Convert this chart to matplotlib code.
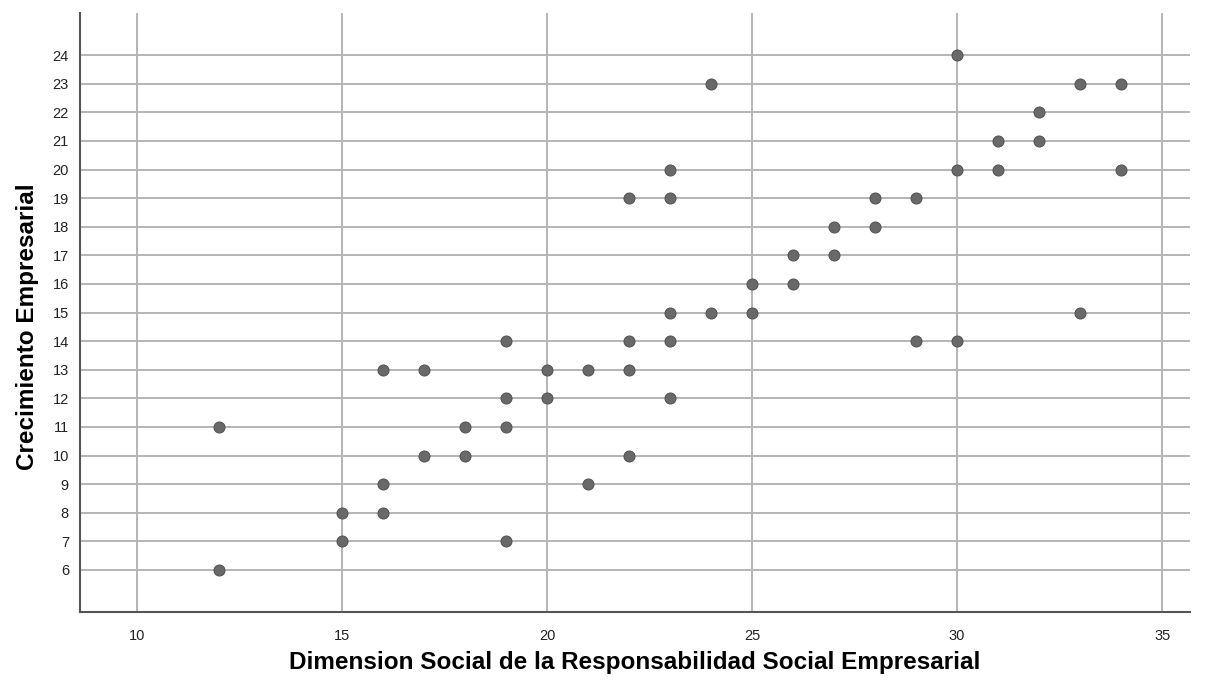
import matplotlib.pyplot as plt

# Dimension Social de la RSE (x) vs Crecimiento Empresarial (y)
social = [30, 24, 33, 34, 32, 31, 32, 23, 30, 31, 34, 22, 23, 28, 29,
          27, 28, 26, 27, 25, 26, 23, 24, 25, 33, 19, 22, 23, 29, 30,
          16, 17, 20, 21, 22, 19, 20, 23, 12, 18, 19, 17, 18, 22,
          16, 21, 15, 16, 15, 19, 12]
crecimiento = [24, 23, 23, 23, 22, 21, 21, 20, 20, 20, 20, 19, 19, 19, 19,
               18, 18, 17, 17, 16, 16, 15, 15, 15, 15, 14, 14, 14, 14, 14,
               13, 13, 13, 13, 13, 12, 12, 12, 11, 11, 11, 10, 10, 10,
               9, 9, 8, 8, 7, 7, 6]

xticks = [10, 15, 20, 25, 30, 35]
yticks = list(range(6, 25))

plt.rcParams['font.family'] = ['Liberation Sans', 'DejaVu Sans']

fig = plt.figure(figsize=(12.16, 6.86), dpi=100)
ax = fig.add_axes([0.0658, 0.1079, 0.9128, 0.873])

ax.scatter(social, crecimiento, s=62, color='#696969', edgecolors='#555555',
           linewidths=0.8, zorder=3)

ax.set_xlim(8.61, 35.68)
ax.set_ylim(4.53, 25.47)
ax.set_xticks(xticks)
ax.set_yticks(yticks)
ax.tick_params(length=0, labelsize=10.5, pad=8, colors='#222222')
ax.tick_params(axis='x', pad=12)

ax.grid(True, color='#b4b4b4', linewidth=1.4, zorder=0)
ax.set_axisbelow(True)

for side in ['top', 'right']:
    ax.spines[side].set_visible(False)
for side in ['left', 'bottom']:
    ax.spines[side].set_color('#555555')
    ax.spines[side].set_linewidth(1.5)

ax.set_xlabel("Dimension Social de la Responsabilidad Social Empresarial",
              fontsize=17.5, fontweight='bold', labelpad=6)
ax.set_ylabel("Crecimiento Empresarial", fontsize=17.5, fontweight='bold',
              labelpad=10)
ax.yaxis.label.set_y(0.477)

fig.savefig("out.png", dpi=100)
